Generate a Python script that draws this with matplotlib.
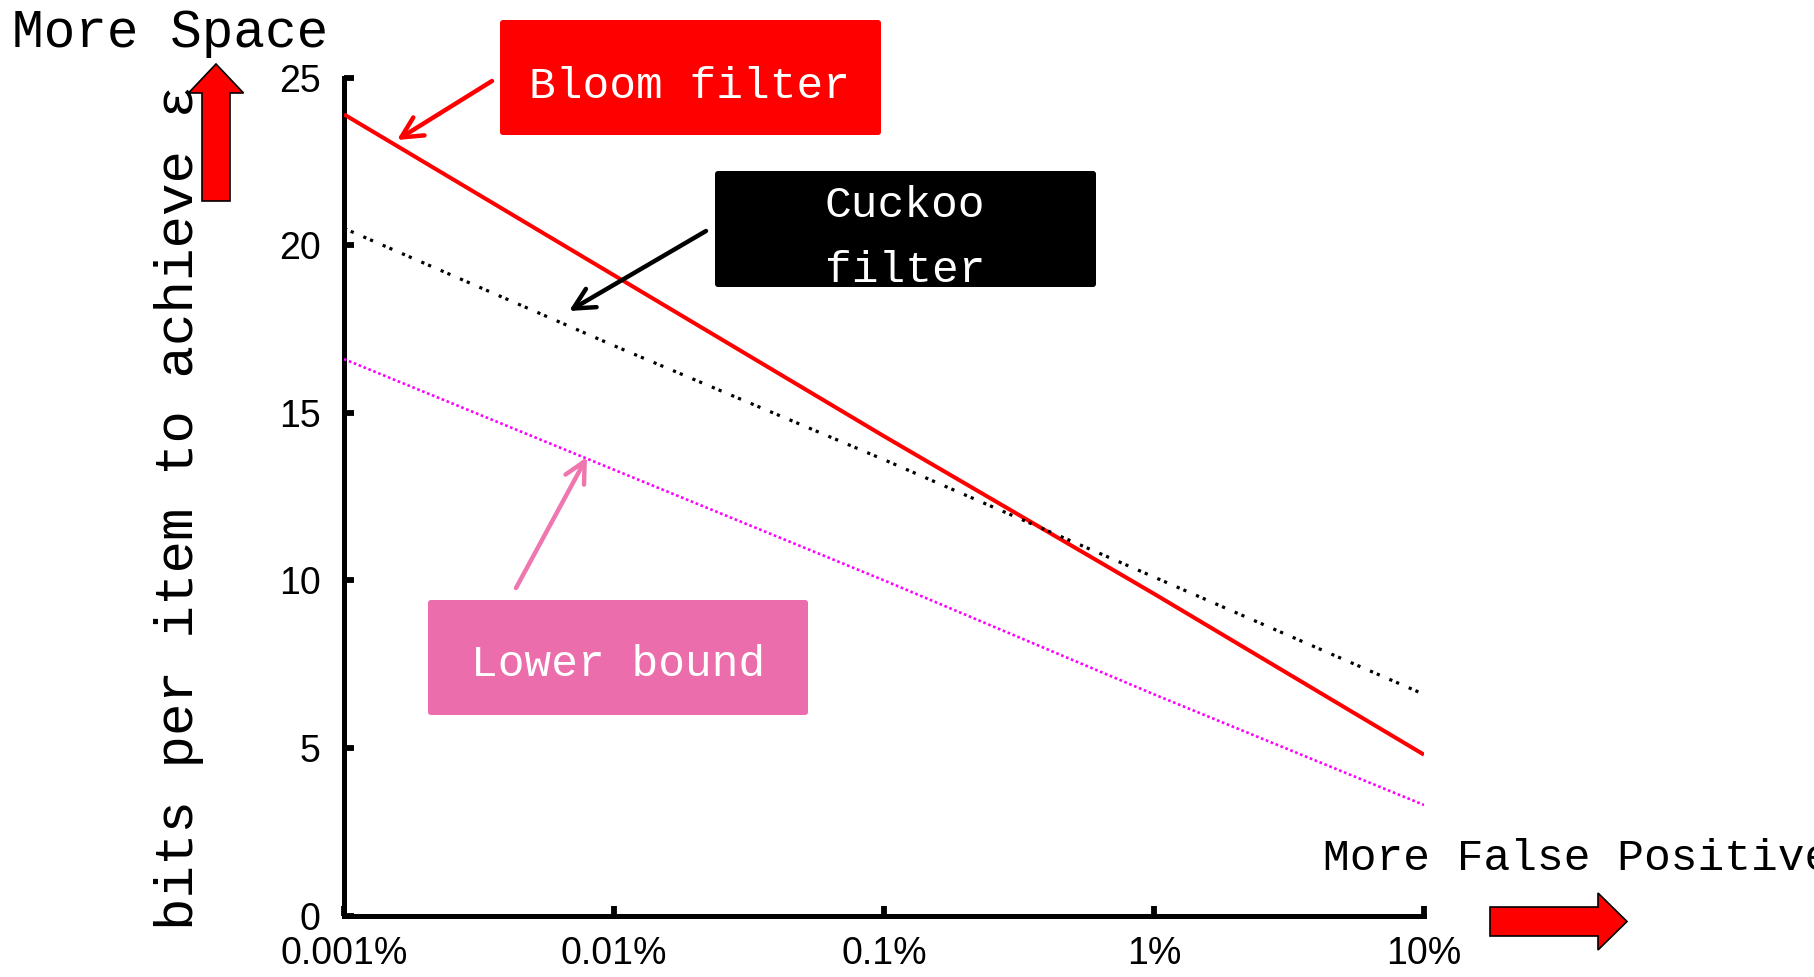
import matplotlib
matplotlib.use("Agg")
import matplotlib.pyplot as plt
from matplotlib.patches import FancyBboxPatch, FancyArrow

# ---------------- data ----------------
fpr_pct = [0.001, 0.01, 0.1, 1, 10]
bloom = [23.9, 19.1, 14.3, 9.6, 4.8]
cuckoo = [20.5, 17.0, 13.6, 10.1, 6.6]
lower_bound = [16.6, 13.3, 10.0, 6.6, 3.3]
x_tick_labels = ["0.001%", "0.01%", "0.1%", "1%", "10%"]
y_ticks = [0, 5, 10, 15, 20, 25]

W, H = 1815, 977
fig = plt.figure(figsize=(W / 100, H / 100), dpi=100)

mono = ["Liberation Mono", "DejaVu Sans Mono"]
sans = ["Liberation Sans", "DejaVu Sans"]

# ---------------- main axes ----------------
left, right, top, bottom = 344, 1424, 77.5, 915.6
ax = fig.add_axes([left / W, (H - bottom) / H, (right - left) / W, (bottom - top) / H])
ax.plot(fpr_pct, bloom, color="#ff0000", lw=2.9, solid_capstyle="butt", zorder=3)
ax.plot(fpr_pct, cuckoo, color="black", lw=2.3, linestyle=(0, (1, 1.3, 1, 3.3)), zorder=3)
ax.plot(fpr_pct, lower_bound, color="#ff00ff", lw=1.9, linestyle=(0, (1, 1)), zorder=3)

ax.set_xscale("log")
ax.set_xlim(fpr_pct[0], fpr_pct[-1])
ax.set_ylim(y_ticks[0], y_ticks[-1])
ax.set_xticks(fpr_pct)
ax.set_xticklabels(x_tick_labels)
ax.minorticks_off()
ax.set_yticks(y_ticks)
for s in ["top", "right"]:
    ax.spines[s].set_visible(False)
for s in ["left", "bottom"]:
    ax.spines[s].set_linewidth(3.6)
    ax.spines[s].set_capstyle("projecting")
ax.tick_params(axis="both", direction="in", length=7, width=4.2, labelsize=27)
ax.tick_params(axis="y", pad=17)
ax.tick_params(axis="x", pad=15)
for lab in ax.get_xticklabels() + ax.get_yticklabels():
    lab.set_family(sans)

# ---------------- overlay (pixel coordinates) ----------------
ov = fig.add_axes([0, 0, 1, 1], zorder=10)
ov.set_xlim(0, W)
ov.set_ylim(H, 0)
ov.axis("off")
ov.patch.set_alpha(0)

def box(x0, y0, x1, y1, color):
    ov.add_patch(FancyBboxPatch((x0, y0), x1 - x0, y1 - y0,
                                boxstyle="round,pad=0,rounding_size=3",
                                fc=color, ec="none"))

box(500, 20, 881, 135, "#ff0000")
ov.text(690, 86, "Bloom filter", color="white", fontsize=32, family=mono,
        ha="center", va="center")

box(715, 171, 1096, 287, "black")
ov.text(905, 238, "Cuckoo\nfilter", color="white", fontsize=32, family=mono,
        ha="center", va="center", linespacing=1.75, multialignment="center")

box(428, 600, 808, 715, "#ec6dac")
ov.text(618, 665, "Lower bound", color="white", fontsize=32, family=mono,
        ha="center", va="center")

def arrow(tail, tip, color):
    ov.annotate("", xy=tip, xytext=tail,
                arrowprops=dict(arrowstyle="->,head_length=0.75,head_width=0.38",
                                color=color, lw=3.2, shrinkA=0, shrinkB=0,
                                mutation_scale=20))

arrow((492, 81), (397, 140), "#ff0000")
arrow((706, 231), (569, 311), "black")
arrow((516, 588), (587, 457), "#ee77b0")

# block arrows
ov.add_patch(FancyArrow(216, 201, 0, -137, width=28, head_width=55, head_length=29,
                        length_includes_head=True, fc="#ff0000", ec="black", lw=1.2))
ov.add_patch(FancyArrow(1490, 921.5, 137, 0, width=29, head_width=57, head_length=29,
                        length_includes_head=True, fc="#ff0000", ec="black", lw=1.2))

# side labels
ov.text(12, 33, "More Space", fontsize=38, family=mono, ha="left", va="center")
ov.text(179, 507, "bits per item to achieve ε", fontsize=39, family=mono,
        rotation=90, ha="center", va="center")
ov.text(1323, 859, "More False Positive", fontsize=32, family=mono,
        ha="left", va="center", clip_on=False)

fig.savefig("out.png", dpi=100)
